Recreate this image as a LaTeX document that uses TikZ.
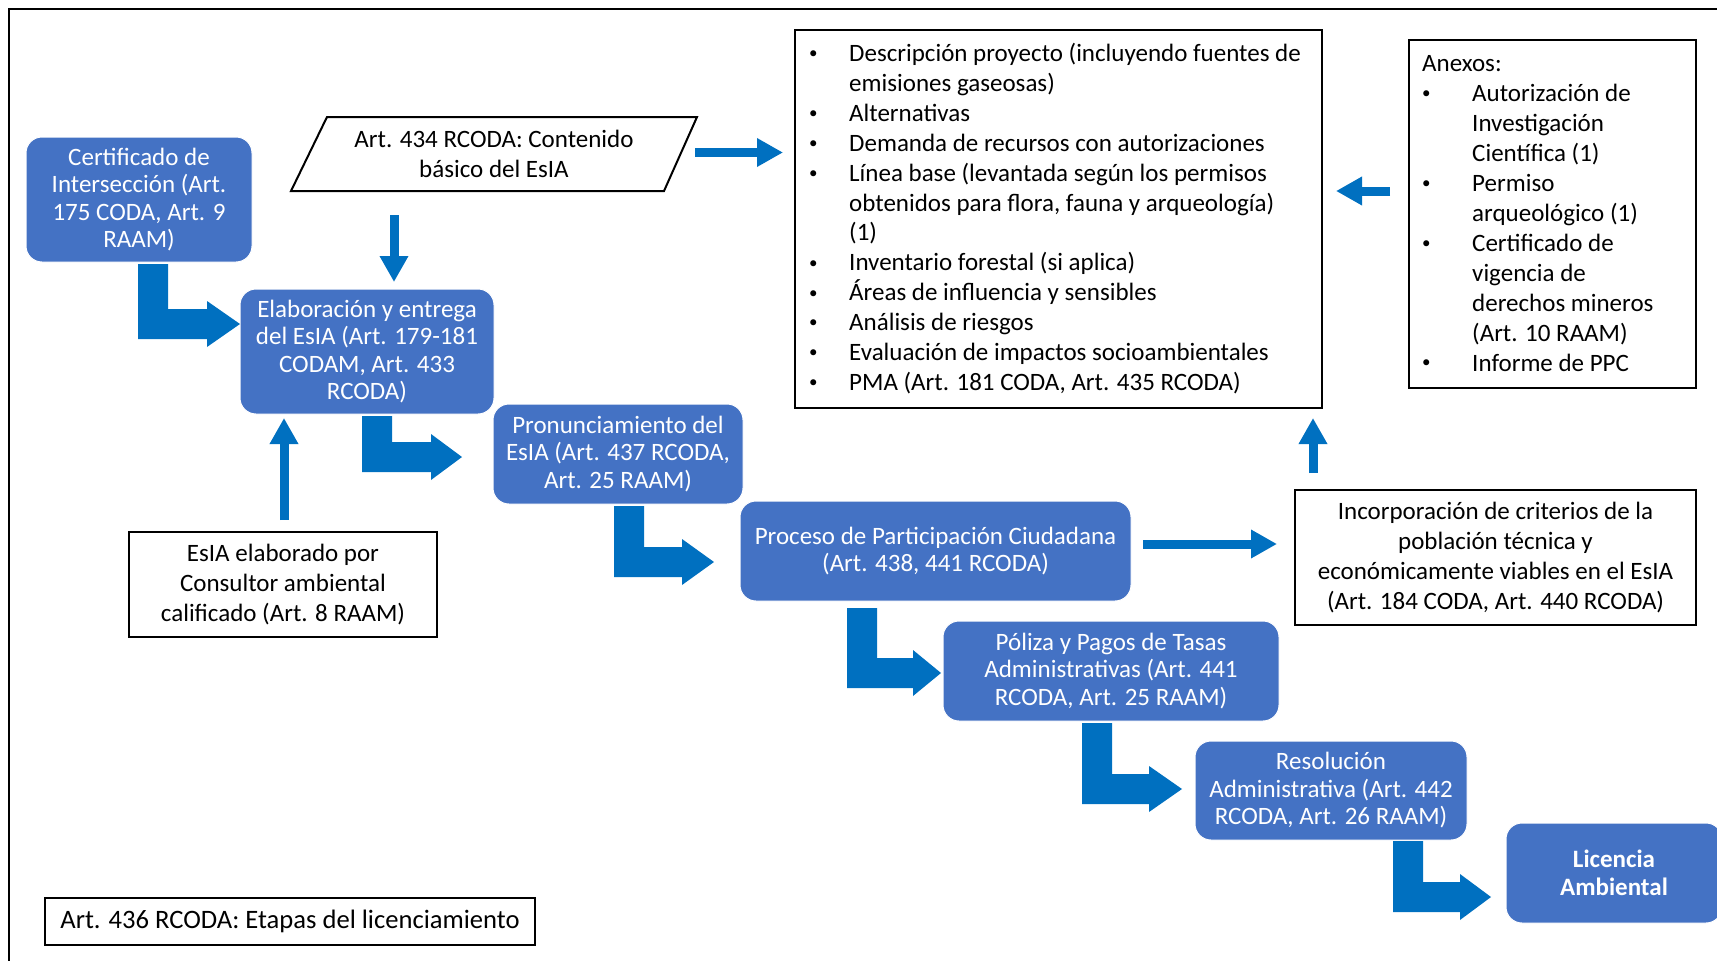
\documentclass[tikz,border=0pt]{standalone}
\usepackage{fontspec}
\setmainfont{Carlito}
\usetikzlibrary{arrows.meta,calc}
\definecolor{boxblue}{HTML}{4472C4}
\definecolor{arrblue}{HTML}{0070C0}
\newcommand\Larr[5]{%
  \fill[arrblue] (#1,#2) -- ++(30,0) |- (#4,#3-15) -- (#4,#3-23) -- (#5,#3) -- (#4,#3+23) -- (#4,#3+15) -- (#1,#3+15) -- cycle;}
\newcommand\bul{\raisebox{3pt}{\fontsize{17}{17}\selectfont •}}
\begin{document}
\begin{tikzpicture}[x=1pt,y=-1pt,
  bluebox/.style={fill=boxblue, draw=white, line width=1pt, rounded corners=16pt, text=white, align=center, inner sep=0pt, font=\fontsize{25}{27.5}\selectfont},
  blackbox/.style={draw=black, line width=2pt, fill=white, align=center, inner sep=0pt, font=\fontsize{25}{30}\selectfont},
  thinarrow/.style={draw=arrblue, line width=9pt, -{Triangle[length=26pt,width=27pt]}},
  listtext/.style={anchor=base west, inner sep=0pt, align=left, font=\fontsize{25}{30}\selectfont}]
\useasboundingbox (0,0) rectangle (1717,961);
\clip (0,0) rectangle (1717,961);
\fill[white] (0,0) rectangle (1717,961);
% frame
\draw[line width=2.5pt] (9,965) -- (9,9) -- (1720,9);

% blue stage boxes
\node[bluebox, minimum width=226pt, minimum height=125pt] (cert) at (139,199.5) {Certificado de\\Intersección (Art.\\175 CODA, Art. 9\\RAAM)};
\node[bluebox, minimum width=254pt, minimum height=125pt] (elab) at (367,351.5) {Elaboración y entrega\\del EsIA (Art. 179-181\\CODAM, Art. 433\\RCODA)};
\node[bluebox, minimum width=250pt, minimum height=100pt] (pron) at (618,454) {Pronunciamiento del\\EsIA (Art. 437 RCODA,\\Art. 25 RAAM)};
\node[bluebox, minimum width=391pt, minimum height=100pt] (proc) at (935.5,551) {Proceso de Participación Ciudadana\\(Art. 438, 441 RCODA)};
\node[bluebox, minimum width=336pt, minimum height=100pt] (pol) at (1111,671) {Póliza y Pagos de Tasas\\Administrativas (Art. 441\\RCODA, Art. 25 RAAM)};
\node[bluebox, minimum width=272pt, minimum height=99pt] (res) at (1331,790.5) {Resolución\\Administrativa (Art. 442\\RCODA, Art. 26 RAAM)};
\node[bluebox, minimum width=216pt, minimum height=100pt, font=\fontsize{25}{28}\selectfont\bfseries] (lic) at (1614,873) {Licencia\\Ambiental};

% black boxes
\node[blackbox, minimum width=308pt, minimum height=105pt] (esia) at (283,584.5) {EsIA elaborado por\\Consultor ambiental\\calificado (Art. 8 RAAM)};
\node[blackbox, minimum width=490pt, minimum height=47pt, font=\fontsize{26.6}{30}\selectfont] (art436) at (290,921.5) {Art. 436 RCODA: Etapas del licenciamiento};
\node[blackbox, minimum width=401pt, minimum height=135pt] (inc) at (1495.5,557.5) {Incorporación de criterios de la\\población técnica y\\económicamente viables en el EsIA\\(Art. 184 CODA, Art. 440 RCODA)};
\node[blackbox, minimum width=527pt, minimum height=378pt] (bul) at (1058.5,219) {};
\node[blackbox, minimum width=287pt, minimum height=348pt] (anx) at (1552.5,214) {};

% parallelogram
\draw[line width=2pt, fill=white] (291,191) -- (327,117) -- (697,117) -- (664,191) -- cycle;
\node[align=center, inner sep=0pt, font=\fontsize{25}{30}\selectfont] (par) at (494,154) {Art. 434 RCODA: Contenido\\básico del EsIA};

% list texts
\node[listtext] (bultext) at (809,61) {\begin{tabular}[t]{@{}p{40pt}@{}l@{}}
\bul&Descripción proyecto (incluyendo fuentes de\\
&emisiones gaseosas)\\
\bul&Alternativas\\
\bul&Demanda de recursos con autorizaciones\\
\bul&Línea base (levantada según los permisos\\
&obtenidos para flora, fauna y arqueología)\\
&(1)\\
\bul&Inventario forestal (si aplica)\\
\bul&Áreas de influencia y sensibles\\
\bul&Análisis de riesgos\\
\bul&Evaluación de impactos socioambientales\\
\bul&PMA (Art. 181 CODA, Art. 435 RCODA)
\end{tabular}};
\node[listtext] (anxtext) at (1422,71) {\begin{tabular}[t]{@{}p{50pt}@{}l@{}}
\multicolumn{2}{@{}l@{}}{Anexos:}\\
\bul&Autorización de\\
&Investigación\\
&Científica (1)\\
\bul&Permiso\\
&arqueológico (1)\\
\bul&Certificado de\\
&vigencia de\\
&derechos mineros\\
&(Art. 10 RAAM)\\
\bul&Informe de PPC
\end{tabular}};

% thin arrows
\coordinate (p1) at (695,152.5); \coordinate (b1) at (783,152.5);
\draw[thinarrow] (p1) -- (b1);
\coordinate (p2) at (394,215); \coordinate (e2) at (394,282);
\draw[thinarrow] (p2) -- (e2);
\coordinate (s3) at (284,520); \coordinate (e3) at (284,418);
\draw[thinarrow] (s3) -- (e3);
\coordinate (s4) at (1390,191); \coordinate (e4) at (1336,191);
\draw[thinarrow] (s4) -- (e4);
\coordinate (s5) at (1143,544); \coordinate (e5) at (1277,544);
\draw[thinarrow] (s5) -- (e5);
\coordinate (s6) at (1313,473); \coordinate (e6) at (1313,418);
\draw[thinarrow] (s6) -- (e6);

% block L arrows
\Larr{138}{264}{324}{207}{240}
\Larr{362}{416}{457}{431}{462}
\Larr{614}{506}{562}{682}{714}
\Larr{847}{608}{673}{913}{941}
\Larr{1082}{723}{789}{1149}{1182}
\Larr{1393}{841}{897}{1460}{1491}
\end{tikzpicture}
\end{document}
